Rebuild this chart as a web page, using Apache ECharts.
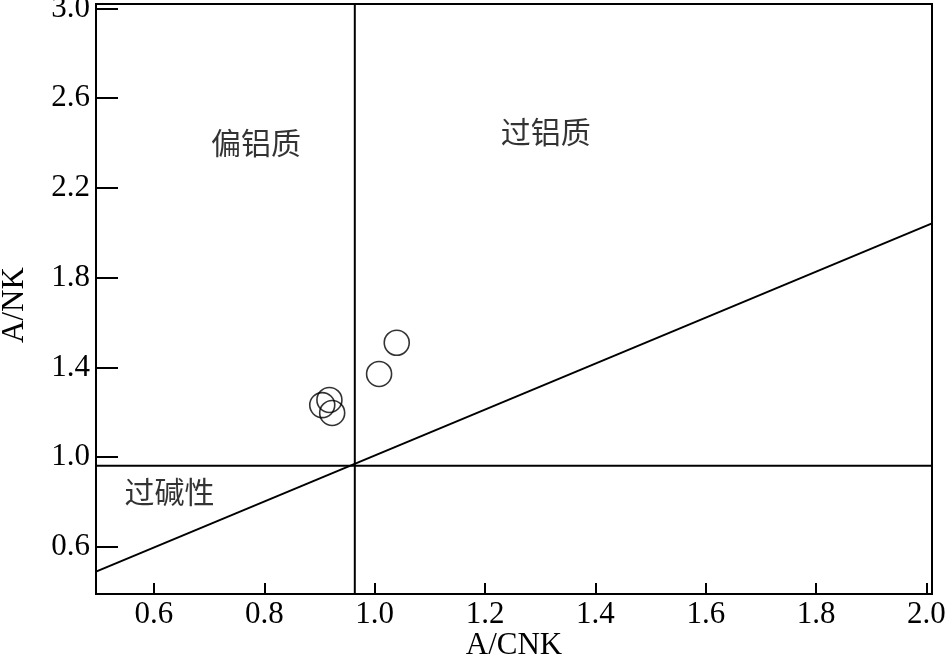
<!DOCTYPE html>
<html>
<head>
<meta charset="utf-8">
<script src="https://cdn.jsdelivr.net/npm/echarts@6/dist/echarts.min.js"></script>
<style>
html,body{margin:0;padding:0;background:#fff;}
#chart{width:945px;height:658px;}
</style>
</head>
<body>
<div id="chart"></div>
<script>
// Sample points (A/CNK, A/NK)
var sampleACNK = [1.04, 1.008, 0.905, 0.918, 0.923];
var sampleANK  = [1.51, 1.371, 1.232, 1.255, 1.197];

// Boundary lines
var vLineX = [0.964, 0.964];
var vLineY = [0.39, 3.02];
var hLineX = [0.495, 2.01];
var hLineY = [0.962, 0.962];
var diagX  = [0.495, 2.01];
var diagY  = [0.49, 2.042];

// Axis ticks
var xTicks = [0.6, 0.8, 1.0, 1.2, 1.4, 1.6, 1.8, 2.0];
var yTicks = [0.6, 1.0, 1.4, 1.8, 2.2, 2.6, 3.0];

// Region labels
var regionNames = ['偏铝质', '过铝质', '过碱性'];
var regionX = [0.785, 1.31, 0.628];
var regionY = [2.40, 2.45, 0.846];

function zip(a, b) { return a.map(function (v, i) { return [v, b[i]]; }); }

var serif = '"Liberation Serif","Times New Roman",serif';
var chart = echarts.init(document.getElementById('chart'), null, {renderer: 'canvas'});
chart.setOption({
  animation: false,
  backgroundColor: '#fff',
  grid: {left: 96, right: 13, top: 4, bottom: 64, containLabel: false, outerBoundsMode: 'none',
    show: true, borderColor: '#000', borderWidth: 2, backgroundColor: 'transparent'},
  xAxis: {
    type: 'value', min: 0.495, max: 2.01,
    name: 'A/CNK', nameLocation: 'middle', nameGap: 36, nameMoveOverlap: false,
    nameTextStyle: {fontFamily: serif, fontSize: 31, color: '#000', lineHeight: 31},
    axisLine: {show: true, lineStyle: {color: '#000', width: 2}},
    axisTick: {show: true, inside: true, length: 11, lineStyle: {color: '#000', width: 2}, customValues: xTicks},
    axisLabel: {show: true, margin: 5, fontFamily: serif, fontSize: 31, color: '#000', customValues: xTicks,
      hideOverlap: false, formatter: function (v) { return v.toFixed(1); }},
    splitLine: {show: false}
  },
  yAxis: {
    type: 'value', min: 0.39, max: 3.02,
    name: 'A/NK', nameLocation: 'middle', nameGap: 66, nameRotate: 90, nameMoveOverlap: false,
    nameTextStyle: {fontFamily: serif, fontSize: 31, color: '#000', lineHeight: 31, padding: [0, 12, 0, 0]},
    axisLine: {show: true, lineStyle: {color: '#000', width: 2}},
    axisTick: {show: true, inside: true, length: 22, lineStyle: {color: '#000', width: 2}, customValues: yTicks},
    axisLabel: {show: true, margin: 6, fontFamily: serif, fontSize: 31, color: '#000', customValues: yTicks,
      hideOverlap: false, formatter: function (v) { return v.toFixed(1); }},
    splitLine: {show: false}
  },
  series: [
    {type: 'line', data: zip(vLineX, vLineY), symbol: 'none', lineStyle: {color: '#000', width: 2}, silent: true},
    {type: 'line', data: zip(hLineX, hLineY), symbol: 'none', lineStyle: {color: '#000', width: 2}, silent: true},
    {type: 'line', data: zip(diagX, diagY), symbol: 'none', lineStyle: {color: '#000', width: 2}, silent: true},
    {type: 'scatter', data: zip(sampleACNK, sampleANK), symbol: 'circle', symbolSize: 25,
      itemStyle: {color: 'rgba(255,255,255,0)', borderColor: '#000', borderWidth: 1.6}, z: 5},
    {type: 'scatter', symbolSize: 0,
      data: regionNames.map(function (n, i) { return {name: n, value: [regionX[i], regionY[i]]}; }),
      label: {show: true, position: 'inside', formatter: '{b}', color: '#000', fontSize: 30,
        fontFamily: '"Noto Sans CJK SC", sans-serif'}, silent: true}
  ]
});
</script>
</body>
</html>
